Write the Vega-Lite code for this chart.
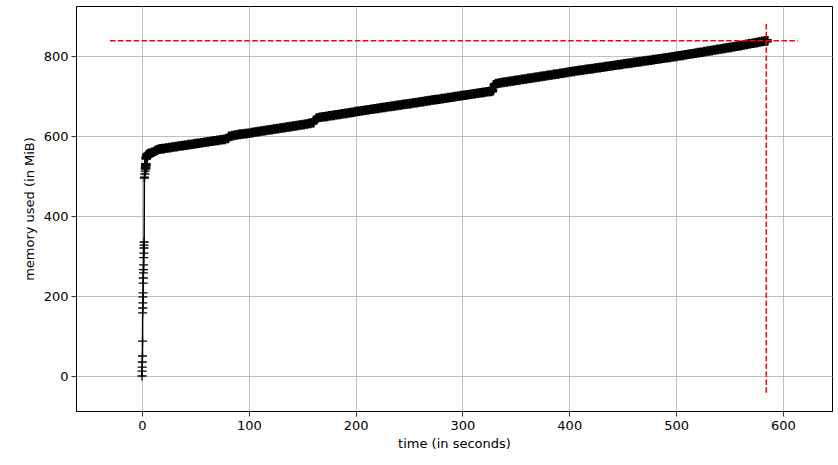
{
  "$schema": "https://vega.github.io/schema/vega-lite/v6.json",
  "width": 756,
  "height": 405,
  "autosize": {"type": "none"},
  "padding": {"left": 76, "top": 6, "right": 6, "bottom": 54},
  "background": "white",
  "config": {
    "font": "DejaVu Sans",
    "view": {"stroke": "black", "strokeWidth": 1},
    "axis": {
      "domainColor": "black",
      "domainWidth": 1,
      "gridColor": "#b0b0b0",
      "gridWidth": 0.8,
      "gridOpacity": 1,
      "tickColor": "black",
      "tickSize": 5,
      "tickWidth": 0.8,
      "labelFontSize": 13,
      "labelColor": "black",
      "labelPadding": 3,
      "titleFontSize": 13,
      "titleFontWeight": "normal",
      "titleColor": "black",
      "labelFont": "DejaVu Sans",
      "titleFont": "DejaVu Sans"
    }
  },
  "layer": [
    {
      "data": {"name": "mem"},
      "mark": {"type": "line", "color": "black", "strokeWidth": 1.5, "clip": true},
      "encoding": {
        "x": {"field": "t", "type": "quantitative", "title": "time (in seconds)",
              "scale": {"domain": [-61.8, 646], "nice": false, "zero": false},
              "axis": {"values": [0, 100, 200, 300, 400, 500, 600], "titlePadding": 5}},
        "y": {"field": "m", "type": "quantitative", "title": "memory used (in MiB)",
              "scale": {"domain": [-87.5, 925], "nice": false, "zero": false},
              "axis": {"values": [0, 200, 400, 600, 800], "titlePadding": 7}}
      }
    },
    {
      "data": {"name": "mem"},
      "mark": {"type": "point", "shape": "M-1,0L1,0M0,-1L0,1", "size": 81, "filled": false, "stroke": "black", "strokeWidth": 1.3, "opacity": 1, "clip": true},
      "encoding": {
        "x": {"field": "t", "type": "quantitative"},
        "y": {"field": "m", "type": "quantitative"}
      }
    },
    {
      "data": {"name": "mem"},
      "transform": [{"filter": "datum.t >= 3.3"}],
      "mark": {"type": "point", "shape": "M-1,0L1,0M0,-1L0,1", "size": 92, "filled": false, "stroke": "black", "strokeWidth": 3.6, "opacity": 1, "clip": true},
      "encoding": {
        "x": {"field": "t", "type": "quantitative"},
        "y": {"field": "m", "type": "quantitative"}
      }
    },
    {
      "data": {"values": [{"x1": -30, "x2": 614, "y": 838}]},
      "mark": {"type": "rule", "color": "#ff0000", "strokeWidth": 1.5, "strokeDash": [5.5, 2.4]},
      "encoding": {
        "x": {"field": "x1", "type": "quantitative"},
        "x2": {"field": "x2"},
        "y": {"field": "y", "type": "quantitative"}
      }
    },
    {
      "data": {"values": [{"x": 584.5, "y1": -42, "y2": 880}]},
      "mark": {"type": "rule", "color": "#ff0000", "strokeWidth": 1.5, "strokeDash": [5.5, 2.4]},
      "encoding": {
        "x": {"field": "x", "type": "quantitative"},
        "y": {"field": "y1", "type": "quantitative"},
        "y2": {"field": "y2"}
      }
    }
  ],
  "datasets": {
    "mem": [
      {"t": 0.0, "m": 0}, {"t": 0.1, "m": 12}, {"t": 0.2, "m": 22}, {"t": 0.3, "m": 35}, {"t": 0.4, "m": 50},
      {"t": 0.5, "m": 87}, {"t": 0.6, "m": 158}, {"t": 0.7, "m": 170}, {"t": 0.8, "m": 183}, {"t": 0.9, "m": 198},
      {"t": 1.0, "m": 208}, {"t": 1.1, "m": 232}, {"t": 1.2, "m": 245}, {"t": 1.3, "m": 258}, {"t": 1.4, "m": 266},
      {"t": 1.5, "m": 278}, {"t": 1.6, "m": 296}, {"t": 1.7, "m": 307}, {"t": 1.8, "m": 320}, {"t": 1.9, "m": 327},
      {"t": 2.0, "m": 335}, {"t": 2.2, "m": 495}, {"t": 2.4, "m": 497}, {"t": 2.7, "m": 505}, {"t": 3.0, "m": 512},
      {"t": 3.3, "m": 520}, {"t": 3.6, "m": 528}, {"t": 4.0, "m": 545}, {"t": 4.5, "m": 550}, {"t": 5, "m": 553},
      {"t": 6, "m": 555}, {"t": 7, "m": 556}, {"t": 8, "m": 557}, {"t": 10, "m": 559}, {"t": 12, "m": 562},
      {"t": 14, "m": 565}, {"t": 16, "m": 567}, {"t": 18, "m": 568}, {"t": 20, "m": 568.5},
      {"t": 23, "m": 570}, {"t": 26, "m": 571}, {"t": 29, "m": 572.5}, {"t": 32, "m": 573.5}, {"t": 35, "m": 575},
      {"t": 38, "m": 576}, {"t": 41, "m": 577}, {"t": 44, "m": 578.5}, {"t": 47, "m": 579.5}, {"t": 50, "m": 581},
      {"t": 53, "m": 582}, {"t": 56, "m": 583}, {"t": 59, "m": 584.5}, {"t": 62, "m": 585.5}, {"t": 65, "m": 587},
      {"t": 68, "m": 588}, {"t": 71, "m": 589}, {"t": 74, "m": 590.5}, {"t": 77, "m": 591.5}, {"t": 80, "m": 594},
      {"t": 82, "m": 599}, {"t": 85, "m": 601}, {"t": 88, "m": 602.5}, {"t": 91, "m": 604}, {"t": 94, "m": 605},
      {"t": 97, "m": 606}, {"t": 100, "m": 607}, {"t": 103, "m": 608.5}, {"t": 106, "m": 610}, {"t": 109, "m": 611},
      {"t": 112, "m": 612.5}, {"t": 115, "m": 613.5}, {"t": 118, "m": 615}, {"t": 121, "m": 616}, {"t": 124, "m": 617.5},
      {"t": 127, "m": 618.5}, {"t": 130, "m": 620}, {"t": 133, "m": 621}, {"t": 136, "m": 622.5}, {"t": 139, "m": 623.5},
      {"t": 142, "m": 625}, {"t": 145, "m": 626}, {"t": 148, "m": 627.5}, {"t": 151, "m": 628.5}, {"t": 154, "m": 630},
      {"t": 157, "m": 631.5}, {"t": 160, "m": 633}, {"t": 162, "m": 640}, {"t": 164, "m": 645}, {"t": 167, "m": 647},
      {"t": 170, "m": 648}, {"t": 173, "m": 649}, {"t": 176, "m": 650.5}, {"t": 179, "m": 651.5}, {"t": 182, "m": 653},
      {"t": 185, "m": 654}, {"t": 188, "m": 655.5}, {"t": 191, "m": 656.5}, {"t": 194, "m": 658}, {"t": 197, "m": 659},
      {"t": 200, "m": 661}, {"t": 203, "m": 662}, {"t": 206, "m": 663}, {"t": 209, "m": 664.5}, {"t": 212, "m": 665.5},
      {"t": 215, "m": 667}, {"t": 218, "m": 668}, {"t": 221, "m": 669}, {"t": 224, "m": 670.5}, {"t": 227, "m": 671.5},
      {"t": 230, "m": 673}, {"t": 233, "m": 674}, {"t": 236, "m": 675}, {"t": 239, "m": 676.5}, {"t": 242, "m": 677.5},
      {"t": 245, "m": 679}, {"t": 248, "m": 680}, {"t": 251, "m": 681}, {"t": 254, "m": 682.5}, {"t": 257, "m": 683.5},
      {"t": 260, "m": 685}, {"t": 263, "m": 686}, {"t": 266, "m": 687.5}, {"t": 269, "m": 688.5}, {"t": 272, "m": 690},
      {"t": 275, "m": 691}, {"t": 278, "m": 692}, {"t": 281, "m": 693.5}, {"t": 284, "m": 694.5}, {"t": 287, "m": 696},
      {"t": 290, "m": 697}, {"t": 293, "m": 698.5}, {"t": 296, "m": 699.5}, {"t": 299, "m": 701}, {"t": 302, "m": 702},
      {"t": 305, "m": 703}, {"t": 308, "m": 704.5}, {"t": 311, "m": 705.5}, {"t": 314, "m": 707}, {"t": 317, "m": 708},
      {"t": 320, "m": 709}, {"t": 323, "m": 710.5}, {"t": 326, "m": 711.5}, {"t": 328, "m": 713}, {"t": 330, "m": 728},
      {"t": 332, "m": 731}, {"t": 335, "m": 732.5}, {"t": 338, "m": 734}, {"t": 341, "m": 735}, {"t": 344, "m": 736.5},
      {"t": 347, "m": 737.5}, {"t": 350, "m": 739}, {"t": 353, "m": 740}, {"t": 356, "m": 741.5}, {"t": 359, "m": 742.5},
      {"t": 362, "m": 744}, {"t": 365, "m": 745}, {"t": 368, "m": 746.5}, {"t": 371, "m": 747.5}, {"t": 374, "m": 749},
      {"t": 377, "m": 750}, {"t": 380, "m": 751.5}, {"t": 383, "m": 752.5}, {"t": 386, "m": 754}, {"t": 389, "m": 755},
      {"t": 392, "m": 756.5}, {"t": 395, "m": 757.5}, {"t": 398, "m": 759}, {"t": 401, "m": 760.5}, {"t": 404, "m": 761.5},
      {"t": 407, "m": 763}, {"t": 410, "m": 764}, {"t": 413, "m": 765}, {"t": 416, "m": 766.5}, {"t": 419, "m": 767.5},
      {"t": 422, "m": 768.5}, {"t": 425, "m": 770}, {"t": 428, "m": 771}, {"t": 431, "m": 772}, {"t": 434, "m": 773.5},
      {"t": 437, "m": 774.5}, {"t": 440, "m": 775.5}, {"t": 443, "m": 777}, {"t": 446, "m": 778}, {"t": 449, "m": 779},
      {"t": 452, "m": 780.5}, {"t": 455, "m": 781.5}, {"t": 458, "m": 782.5}, {"t": 461, "m": 784}, {"t": 464, "m": 785},
      {"t": 467, "m": 786}, {"t": 470, "m": 787.5}, {"t": 473, "m": 788.5}, {"t": 476, "m": 789.5}, {"t": 479, "m": 791},
      {"t": 482, "m": 792}, {"t": 485, "m": 793}, {"t": 488, "m": 794.5}, {"t": 491, "m": 795.5}, {"t": 494, "m": 796.5},
      {"t": 497, "m": 798}, {"t": 500, "m": 799}, {"t": 503, "m": 800.5}, {"t": 506, "m": 801.5}, {"t": 509, "m": 803},
      {"t": 512, "m": 804.5}, {"t": 515, "m": 805.5}, {"t": 518, "m": 807}, {"t": 521, "m": 808.5}, {"t": 524, "m": 809.5},
      {"t": 527, "m": 811}, {"t": 530, "m": 812.5}, {"t": 533, "m": 813.5}, {"t": 536, "m": 815}, {"t": 539, "m": 816.5},
      {"t": 542, "m": 817.5}, {"t": 545, "m": 819}, {"t": 548, "m": 820.5}, {"t": 551, "m": 821.5}, {"t": 554, "m": 823},
      {"t": 557, "m": 824.5}, {"t": 560, "m": 826}, {"t": 563, "m": 827.5}, {"t": 566, "m": 829}, {"t": 569, "m": 830.5},
      {"t": 572, "m": 832}, {"t": 575, "m": 833.5}, {"t": 578, "m": 835}, {"t": 581, "m": 836.5}, {"t": 584, "m": 838},
      {"t": 585, "m": 838}
    ]
  }
}
